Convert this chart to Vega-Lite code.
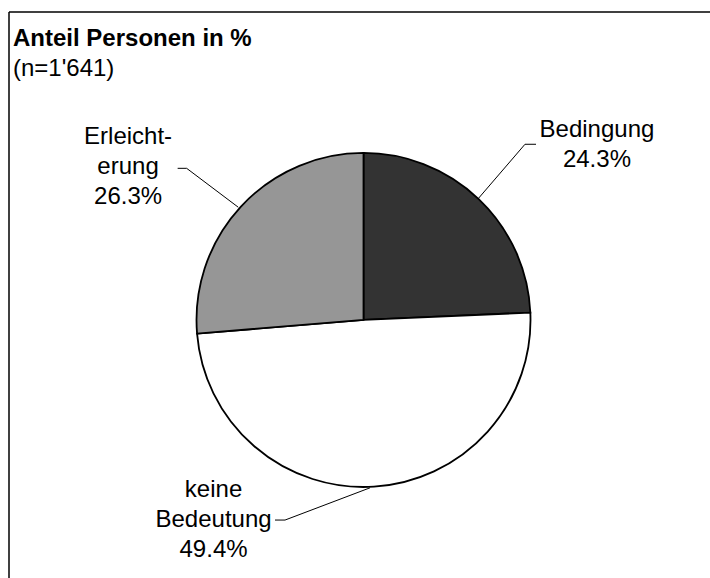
{
  "$schema": "https://vega.github.io/schema/vega-lite/v6.json",
  "width": 701,
  "height": 566,
  "autosize": {"type": "none"},
  "padding": {"left": 9, "top": 12, "right": 0, "bottom": 0},
  "background": "white",
  "title": {
    "text": "Anteil Personen in %",
    "subtitle": "(n=1'641)",
    "anchor": "start",
    "frame": "group",
    "offset": -70,
    "dx": 4,
    "font": "Liberation Sans",
    "fontSize": 24,
    "fontWeight": "bold",
    "color": "black",
    "subtitleFont": "Liberation Sans",
    "subtitleFontSize": 24,
    "subtitleColor": "black",
    "subtitlePadding": 6
  },
  "config": {"view": {"stroke": null}},
  "datasets": {
    "slices": [
      {"segment": "Bedingung", "share": 24.3, "rank": 1},
      {"segment": "keine Bedeutung", "share": 49.4, "rank": 2},
      {"segment": "Erleichterung", "share": 26.3, "rank": 3}
    ],
    "labels": [
      {"segment": "Bedingung", "text": "Bedingung\n24.3%", "lx": 139.8, "ly": 113.8},
      {"segment": "Erleichterung", "text": "Erleicht-\nerung\n26.3%", "lx": -141.0, "ly": 109.6},
      {"segment": "keine Bedeutung", "text": "keine\nBedeutung\n49.4%", "lx": -89.8, "ly": -101.8}
    ],
    "leaders": [
      {"segment": "Bedingung", "step": 1, "lx": 69.0, "ly": 73.0},
      {"segment": "Bedingung", "step": 2, "lx": 96.7, "ly": 105.2},
      {"segment": "Bedingung", "step": 3, "lx": 103.3, "ly": 105.2},
      {"segment": "Erleichterung", "step": 1, "lx": -75.0, "ly": 67.5},
      {"segment": "Erleichterung", "step": 2, "lx": -105.9, "ly": 90.8},
      {"segment": "Erleichterung", "step": 3, "lx": -111.3, "ly": 90.8},
      {"segment": "keine Bedeutung", "step": 1, "lx": 3.9, "ly": -100.5},
      {"segment": "keine Bedeutung", "step": 2, "lx": -47.0, "ly": -119.8},
      {"segment": "keine Bedeutung", "step": 3, "lx": -53.0, "ly": -119.8}
    ]
  },
  "layer": [
    {
      "data": {"name": "slices"},
      "mark": {"type": "arc", "outerRadius": 167, "stroke": "black", "strokeWidth": 1.8},
      "encoding": {
        "x": {"datum": 0, "type": "quantitative", "scale": {"domain": [-212.3, 207.5], "nice": false, "zero": false}, "axis": null},
        "y": {"datum": 0, "type": "quantitative", "scale": {"domain": [-154.5, 184.4], "nice": false, "zero": false}, "axis": null},
        "theta": {"field": "share", "type": "quantitative", "stack": true},
        "order": {"field": "rank", "type": "quantitative"},
        "color": {
          "field": "segment",
          "type": "nominal",
          "scale": {"domain": ["Bedingung", "keine Bedeutung", "Erleichterung"], "range": ["#333333", "#ffffff", "#969696"]},
          "legend": null
        }
      }
    },
    {
      "data": {"name": "leaders"},
      "mark": {"type": "line", "stroke": "black", "strokeWidth": 1},
      "encoding": {
        "x": {"field": "lx", "type": "quantitative", "axis": null},
        "y": {"field": "ly", "type": "quantitative", "axis": null},
        "detail": {"field": "segment", "type": "nominal"},
        "order": {"field": "step", "type": "quantitative"}
      }
    },
    {
      "data": {"name": "labels"},
      "mark": {"type": "text", "align": "center", "baseline": "middle", "lineBreak": "\n", "lineHeight": 30, "font": "Liberation Sans", "fontSize": 24, "color": "black"},
      "encoding": {
        "x": {"field": "lx", "type": "quantitative", "axis": null},
        "y": {"field": "ly", "type": "quantitative", "axis": null},
        "text": {"field": "text", "type": "nominal"}
      }
    },
    {
      "data": {"values": [{"edge": "top"}]},
      "mark": {"type": "rule", "color": "black", "strokeWidth": 1.5},
      "encoding": {
        "y": {"datum": 184.4, "type": "quantitative", "axis": null}
      }
    },
    {
      "data": {"values": [{"edge": "left"}]},
      "mark": {"type": "rule", "color": "black", "strokeWidth": 1.5},
      "encoding": {
        "x": {"datum": -212.3, "type": "quantitative", "axis": null}
      }
    }
  ]
}
